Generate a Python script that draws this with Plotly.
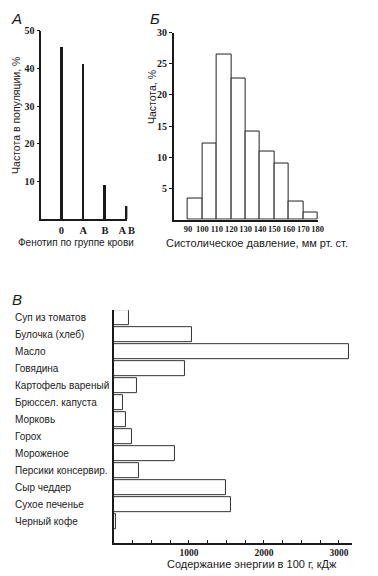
import plotly.graph_objects as go

# Page body has a default 8px margin, so the figure is drawn offset by it.
OFF = 8
W, H = 378 - OFF, 576 - OFF

# Panel A: blood group phenotype frequencies
blood_types = ["0", "A", "B", "AB"]
blood_labels = ["0", "A", "B", "A B"]
blood_freq = [45.7, 41.2, 9.0, 3.5]
a_yticks = [10, 20, 30, 40, 50]

# Panel B: systolic pressure histogram (bin left edges)
bp_left = [90, 100, 110, 120, 130, 140, 150, 160, 170]
bp_freq = [3.4, 12.3, 26.4, 22.6, 14.1, 11.0, 9.0, 2.9, 1.2]
bp_ticks = [90, 100, 110, 120, 130, 140, 150, 160, 170, 180]
b_yticks = [5, 10, 15, 20, 25, 30]

# Panel C: energy content
foods = ["Суп из томатов", "Булочка (хлеб)", "Масло", "Говядина",
         "Картофель вареный", "Брюссел. капуста", "Морковь", "Горох",
         "Мороженое", "Персики консервир.", "Сыр чеддер", "Сухое печенье",
         "Черный кофе"]
energy = [195, 1040, 3140, 945, 305, 122, 165, 243, 812, 335, 1490, 1565, 20]
c_xticks = [1000, 2000, 3000]
c_minor = [250, 500, 750, 1250, 1500, 1750, 2250, 2500, 2750, 3250]


def px(x):
    return (x - OFF) / W


def py(y):
    return 1 - (y - OFF) / H


INK = "#1a1a1a"
SERIF = dict(family="Liberation Serif", color=INK, weight="bold")
SANS = "Liberation Sans"

fig = go.Figure()
fig.add_trace(go.Bar(x=blood_types, y=blood_freq, width=0.13,
                     marker=dict(color=INK, line_width=0),
                     xaxis="x", yaxis="y", showlegend=False))
fig.add_trace(go.Bar(x=bp_left, y=bp_freq, width=10, offset=0,
                     marker=dict(color="white", line=dict(color="#222", width=1)),
                     xaxis="x2", yaxis="y2", showlegend=False))
fig.add_trace(go.Bar(x=energy, y=foods, orientation="h", width=0.86,
                     marker=dict(color="white", line=dict(color="#333", width=1)),
                     xaxis="x3", yaxis="y3", showlegend=False))

axis_common = dict(showline=True, linecolor=INK, linewidth=1.5,
                   showgrid=False, zeroline=False, fixedrange=True)

fig.update_layout(
    width=W, height=H, autosize=False,
    margin=dict(l=0, r=0, t=0, b=0),
    paper_bgcolor="white", plot_bgcolor="white",
    bargap=0,
    xaxis=dict(**axis_common, domain=[px(42), px(130)], anchor="y",
               type="category", categoryorder="array", categoryarray=blood_types,
               range=[-0.93, 3.03], tickmode="array", tickvals=blood_types,
               ticktext=blood_labels, ticks="", tickangle=0,
               tickfont=dict(**SERIF, size=10.5)),
    yaxis=dict(**axis_common, domain=[py(216), py(26)], anchor="x",
               range=[0, 50], tickmode="array", tickvals=a_yticks,
               ticks="outside", ticklen=3, tickwidth=1, tickcolor=INK,
               tickfont=dict(**SERIF, size=10)),
    xaxis2=dict(**axis_common, domain=[px(177.3), px(325)], anchor="y2",
                range=[80, 180.3], tickmode="array", tickvals=bp_ticks,
                ticks="", tickangle=0, tickfont=dict(**SERIF, size=8.5)),
    yaxis2=dict(**axis_common, domain=[py(216.7), py(27.7)], anchor="x2",
                range=[0, 30], tickmode="array", tickvals=b_yticks,
                ticks="outside", ticklen=3, tickwidth=1, tickcolor=INK,
                tickfont=dict(**SERIF, size=10)),
    xaxis3=dict(**axis_common, domain=[px(116.3), px(360)], anchor="y3",
                range=[0, 3180], tickmode="array", tickvals=c_xticks,
                ticks="inside", ticklen=3, tickwidth=1, tickcolor=INK,
                tickangle=0, ticklabelstandoff=0,
                minor=dict(tickmode="array", tickvals=c_minor, ticks="inside",
                           ticklen=3, tickwidth=1, tickcolor=INK),
                tickfont=dict(**SERIF, size=9.5)),
    yaxis3=dict(**axis_common, domain=[py(542.7), py(307.8)], anchor="x3",
                type="category", categoryorder="array", categoryarray=foods,
                range=[13.27, -0.45], showticklabels=False, ticks=""),
)

ann = []
for f in foods:
    ann.append(dict(x=px(12.7), y=f, xref="paper", yref="y3", text=f,
                    xanchor="left", yanchor="middle", showarrow=False,
                    font=dict(family=SANS, size=10, color=INK)))

titles = [
    (16, 111, "Частота в популяции, %", -90, 10.5),
    (155, 93, "Частота, %", -90, 10.5),
    (77, 240, "Фенотип по группе крови", 0, 10),
    (263, 240, "Систолическое давление, мм рт. ст.", 0, 11),
    (257, 564, "Содержание энергии в 100 г, кДж", 0, 11),
]
for x, y, t, ang, s in titles:
    ann.append(dict(x=px(x), y=py(y), xref="paper", yref="paper", text=t,
                    textangle=ang, xanchor="center", yanchor="middle",
                    showarrow=False, font=dict(family=SANS, size=s, color=INK)))

for x, y, t in [(17, 14, "А"), (158, 14, "Б"), (17.5, 297, "В")]:
    ann.append(dict(x=px(x), y=py(y), xref="paper", yref="paper",
                    text="<i>" + t + "</i>", xanchor="center", yanchor="middle",
                    showarrow=False, font=dict(family=SANS, size=15, color=INK)))

fig.update_layout(annotations=ann)
fig.write_html("out.html")
